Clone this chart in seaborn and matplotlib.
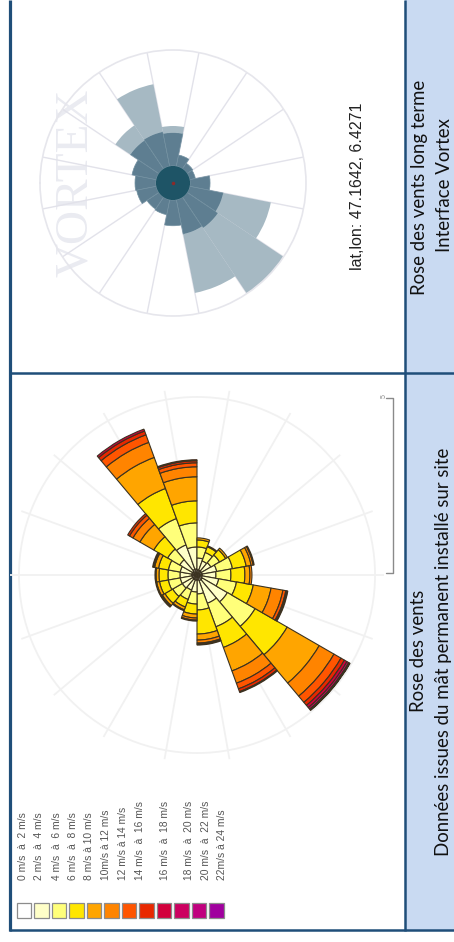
import numpy as np
import pandas as pd
import seaborn as sns
import matplotlib
matplotlib.use("Agg")
import matplotlib.pyplot as plt
from matplotlib.patches import Rectangle

W, H = 454, 942

# --- mast wind rose : % of time per 20 deg sector (centre bearing) and speed class
sector_dir = np.arange(0, 360, 20)
speed_labels = ["0 m/s  à  2 m/s", "2 m/s  à  4 m/s", "4 m/s  à  6 m/s", "6 m/s  à  8 m/s",
                "8 m/s à 10 m/s", "10m/s à 12 m/s", "12 m/s à 14 m/s", "14 m/s  à  16 m/s",
                "16 m/s  à  18 m/s", "18 m/s  à  20 m/s", "20 m/s  à  22 m/s", "22m/s à 24 m/s"]
s00_02 = [0.39, 0.39, 0.39, 0.47, 0.47, 0.39, 0.39, 0.39, 0.39, 0.39, 0.39, 0.47, 0.47, 0.39, 0.39, 0.39, 0.39, 0.39]
s02_04 = [0.94, 0.94, 1.17, 2.03, 1.72, 0.94, 0.78, 0.86, 1.17, 1.09, 1.33, 2.27, 1.88, 1.09, 0.94, 0.86, 0.94, 0.94]
s04_06 = [0.94, 0.94, 1.09, 2.19, 1.88, 0.86, 0.70, 0.78, 1.25, 1.17, 1.41, 2.50, 1.95, 1.25, 0.94, 0.78, 0.86, 0.94]
s06_08 = [0.70, 0.78, 1.25, 2.50, 1.72, 0.55, 0.47, 0.55, 1.09, 1.09, 1.33, 2.89, 1.72, 1.88, 0.78, 0.63, 0.70, 0.70]
s08_10 = [0.23, 0.31, 1.25, 2.58, 1.88, 0.16, 0.08, 0.16, 0.39, 0.39, 1.41, 2.89, 1.95, 0.47, 0.31, 0.23, 0.23, 0.23]
s10_12 = [0.08, 0.08, 0.63, 1.25, 0.78, 0, 0, 0, 0.16, 0.16, 0.94, 1.33, 1.02, 0.23, 0.16, 0.08, 0.08, 0.08]
s12_14 = [0, 0.08, 0.31, 0.63, 0.31, 0, 0, 0, 0.08, 0, 0.23, 0.63, 0.47, 0.08, 0.08, 0, 0.08, 0]
s14_16 = [0, 0, 0.16, 0.31, 0.16, 0, 0, 0, 0, 0, 0.08, 0.31, 0.23, 0.08, 0, 0, 0, 0]
s16_18 = [0, 0, 0, 0.16, 0.08, 0, 0, 0, 0, 0, 0.08, 0.23, 0.08, 0, 0, 0, 0, 0]
s18_20 = [0, 0, 0, 0, 0, 0, 0, 0, 0, 0, 0, 0.16, 0, 0, 0, 0, 0, 0]
s20_22 = [0, 0, 0, 0, 0, 0, 0, 0, 0, 0, 0, 0.08, 0, 0, 0, 0, 0, 0]
s22_24 = [0, 0, 0, 0, 0, 0, 0, 0, 0, 0, 0, 0.04, 0, 0, 0, 0, 0, 0]
mast_scale = 13.9   # outer grid circle (%)

# --- Vortex long term rose (16 centred sectors)
vortex_dirs = np.arange(0, 360, 22.5)
vortex_calm = 1.8
vortex_mid = [2.2, 2.6, 3.6, 3.7, 3.5, 1.2, 0.7, 0.6, 2.1, 3.6, 3.9, 3.7, 2.7, 1.6, 1.5, 2.1]
vortex_high = [0, 0, 1.9, 5.1, 0.7, 0, 0, 0, 0, 5.1, 8.3, 6.3, 0, 0, 0, 0]
vortex_scale = 14.0

speed_colors = ["#FFFFFF", "#FFFFC8", "#FFFF7A", "#FFE600", "#FFA500", "#FF8400",
                "#FF5500", "#E82800", "#D2003C", "#CC0060", "#C0007E", "#A0009E"]

sns.set_theme(style="white")
plt.rcParams["font.family"] = ["Liberation Sans", "DejaVu Sans"]

fig = plt.figure(figsize=(W / 100, H / 100), dpi=100)
bg = fig.add_axes([0, 0, 1, 1])
bg.set_xlim(0, W)
bg.set_ylim(H, 0)
bg.axis("off")

# table frame (page is rotated)
navy = "#1F4E79"
bg.add_patch(Rectangle((405, 0), W - 405, 930, color="#C9DAF2", lw=0))
bg.plot([9.5, 9.5], [0, 931], color=navy, lw=2.3, solid_capstyle="butt")
bg.plot([405, 405], [0, 931], color=navy, lw=1.8, solid_capstyle="butt")
bg.plot([9, W], [373, 373], color=navy, lw=1.8, solid_capstyle="butt")
bg.plot([8.5, W], [930, 930], color=navy, lw=1.8, solid_capstyle="butt")

cap = dict(rotation=90, ha="center", va="center", fontsize=13.4, family=["Lato", "DejaVu Sans"],
           color="#111111")
bg.text(420, 187, "Rose des vents long terme", **cap)
bg.text(444, 185, "Interface Vortex", **cap)
bg.text(418, 651, "Rose des vents", **cap)
bg.text(444, 652, "Données issues du mât permanent installé sur site", **cap)

bg.text(357, 186, "lat,lon: 47.1642, 6.4271", rotation=90, ha="center", va="center",
        fontsize=11.5, color="#222222")
bg.text(76, 183, "VORTEX", rotation=90, ha="center", va="center", fontsize=34,
        family=["Liberation Serif", "DejaVu Serif"], color="#EAEBF1")

# scale bracket
bg.plot([386, 393, 393, 386], [398, 398, 573, 573], color="#8A8A8A", lw=1)
bg.text(384, 396, "5", rotation=90, ha="center", va="center", fontsize=5, color="#888888")

# legend
leg_text_x = [23.3, 39.3, 56.7, 72.7, 89.3, 106, 122.7, 140, 165, 189.3, 205.7, 221.7]
for i, (lab, col) in enumerate(zip(speed_labels, speed_colors)):
    x0 = 16.7 + i * 17.5
    bg.add_patch(Rectangle((x0, 903), 14.5, 14.5, facecolor=col, edgecolor="#8C8C8C", lw=0.9))
    bg.text(leg_text_x[i], 880, lab, rotation=90, ha="center", va="bottom", fontsize=7.4, color="#555555")


def polar_axes(cx, cy, r_px):
    ax = fig.add_axes([(cx - r_px) / W, 1 - (cy + r_px) / H, 2 * r_px / W, 2 * r_px / H],
                      projection="polar")
    ax.set_theta_zero_location("W")
    ax.set_theta_direction(-1)
    ax.set_facecolor("none")
    ax.set_xticklabels([])
    ax.set_yticklabels([])
    return ax


# --- Vortex rose
ax1 = polar_axes(173, 183, 133)
ax1.set_ylim(0, vortex_scale)
ax1.set_xticks(np.deg2rad(np.arange(11.25, 360, 22.5)))
ax1.set_yticks([])
ax1.xaxis.grid(True, color="#E2E2EA", lw=1.0)
ax1.spines["polar"].set_color("#E6E6EC")
ax1.spines["polar"].set_linewidth(1.2)
vth = np.deg2rad(vortex_dirs)
vw = np.deg2rad(22.5)
ax1.bar(0, vortex_calm, width=2 * np.pi, color="#1E5466", lw=0, zorder=3)
ax1.bar(vth, vortex_mid, width=vw, bottom=vortex_calm, color="#5E7E91",
        edgecolor="#7391A1", lw=0.5, zorder=2)
ax1.bar(vth, vortex_high, width=vw, bottom=vortex_calm + np.array(vortex_mid),
        color="#A6B9C3", lw=0, zorder=2)
ax1.plot([0], [0], marker="o", ms=1.5, color="#8B2A2A", zorder=4)

# --- mast rose
ax2 = polar_axes(197, 575, 187)
ax2.set_ylim(0, 14.6)
ax2.set_xticks(np.deg2rad(sector_dir))
ax2.set_yticks([mast_scale])
ax2.grid(True, color="#F1F1F1", lw=1.3)
ax2.spines["polar"].set_visible(False)

mast = pd.DataFrame(dict(zip(speed_labels, [s00_02, s02_04, s04_06, s06_08, s08_10, s10_12,
                                            s12_14, s14_16, s16_18, s18_20, s20_22, s22_24])),
                    index=sector_dir)
th = np.deg2rad(mast.index.values)
bottom = np.zeros(len(mast))
for lab, col in zip(speed_labels, speed_colors):
    vals = mast[lab].values
    keep = vals > 0
    ax2.bar(th[keep], vals[keep], width=np.deg2rad(20), bottom=bottom[keep],
            color=col, edgecolor="#3B3220", lw=0.8, zorder=3)
    bottom += vals

fig.savefig("out.png", dpi=100)
